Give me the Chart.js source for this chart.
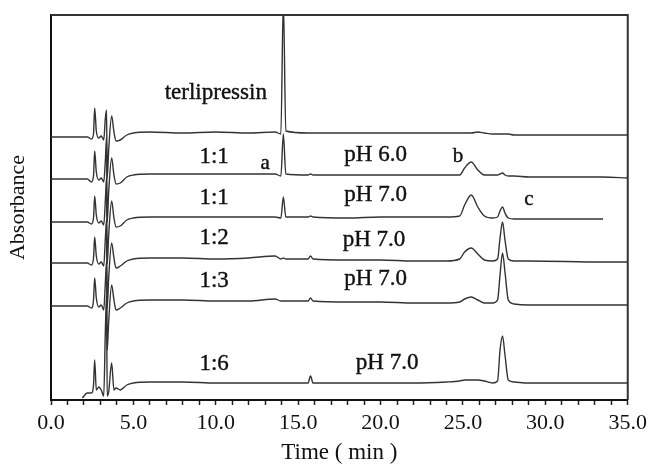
<!DOCTYPE html>
<html>
<head>
<meta charset="utf-8">
<script src="https://cdn.jsdelivr.net/npm/chart.js@4/dist/chart.umd.min.js"></script>
<style>
  html, body { margin: 0; padding: 0; background: #fff; }
  #chromatogram { display: block; }
</style>
</head>
<body>
<canvas id="chromatogram" width="652" height="464"></canvas>
<script>
// retention time grid (min), shared by every trace
const times = [0, 1.9, 2.2, 2.45, 2.58, 2.65, 2.75, 2.9, 3.05, 3.2, 3.3, 3.37, 3.41, 3.5, 3.68, 3.82, 3.95, 4.2, 4.6, 5.0,
  6.0, 8.0, 10.0, 12.0, 13.6, 13.95, 14.1, 14.25, 15.6, 15.75, 15.9, 18.0, 20.0, 22.0, 24.0,
  24.8, 25.1, 25.5, 25.9, 26.3, 26.8, 27.1, 27.25, 27.4, 27.55, 27.75, 28.1, 29.0, 33.5, 35.0];

// absorbance (arbitrary units, traces stacked with offsets as in the figure)
const terlipressin = [263, 263, 263, 261, 266, 292, 269, 262, 264, 260, 282, 290, 222, 250, 284, 268, 259, 260, 265, 267,
  268, 267, 268, 267, 268, 266, 400, 269, 267, 267, 267, 267, 267, 267, 267,
  267, 267, 267, 268, 267, 266, 266, 266, 266, 266, 266, 265, 265, 265, 265];
const ratio11pH60 = [221, 221, 221, 218, 224, 249, 228, 220, 222, 218, 240, 262, 178, 208, 242, 225, 216, 217, 223, 225,
  226, 226, 226, 226, 226, 224, 266, 226, 225, 226, 225, 225, 225, 225, 225,
  225, 232, 238, 230, 225, 225, 225, 226, 227, 225, 224, 224, 223, 223, 222];
const ratio11pH70 = [178, 178, 178, 176, 182, 204, 185, 177, 179, 175, 200, 222, 136, 165, 199, 182, 173, 174, 180, 182,
  183, 183, 183, 183, 183, 182, 203, 183, 183, 184, 183, 182, 183, 183, 183,
  184, 195, 205, 193, 184, 182, 183, 189, 193, 187, 182, 181, 181, 181, null];
const ratio12pH70 = [137, 137, 137, 135, 142, 163, 144, 136, 138, 134, 162, 180, 92, 122, 157, 142, 132, 134, 139, 141,
  142, 142, 141, 142, 144, 141, 142, 141, 141, 144, 141, 140, 140, 139, 139,
  141, 148, 152, 146, 140, 139, 141, 162, 178, 160, 141, 139, 139, 138, 138];
const ratio13pH70 = [94, 94, 94, 92, 100, 122, 102, 93, 95, 90, 118, 138, 50, 78, 115, 100, 90, 92, 97, 99,
  100, 100, 99, 99, 101, 99, 99, 99, 99, 102, 99, 98, 98, 97, 97,
  98, 101, 103, 100, 97, 97, 100, 125, 147, 128, 100, 96, 95, 95, 95];
const ratio16pH70 = [null, 2, 7, 7, 15, 40, 10, 13, 10, 4, 70, 104, 4, 8, 37, 10, 12, 10, 15, 17,
  18, 18, 17, 17, 17, 17, 17, 17, 17, 24, 17, 17, 17, 17, 18,
  19, 20, 20, 20, 19, 17, 19, 50, 64, 45, 20, 18, 17, 17, 17];

const traces = [terlipressin, ratio11pH60, ratio11pH70, ratio12pH70, ratio13pH70, ratio16pH70];
const traceNames = ["terlipressin", "1:1 pH 6.0", "1:1 pH 7.0", "1:2 pH 7.0", "1:3 pH 7.0", "1:6 pH 7.0"];

// text labels in the plot: [text, time, absorbance]
const labels = [
  ["terlipressin", 10.0, 307],
  ["1:1", 9.9, 243], ["a", 13.0, 237], ["pH 6.0", 19.7, 245], ["b", 24.7, 244],
  ["1:1", 9.9, 202], ["pH 7.0", 19.7, 205], ["c", 29.0, 201],
  ["1:2", 9.9, 162], ["pH 7.0", 19.6, 160],
  ["1:3", 9.9, 119], ["pH 7.0", 19.7, 121],
  ["1:6", 9.9, 36], ["pH 7.0", 20.4, 37]
];

const serif = "'Liberation Serif', 'DejaVu Serif', serif";

const textPlugin = {
  id: "peakText",
  afterDatasetsDraw(chart) {
    const { ctx, scales: { x, y }, chartArea: a } = chart;
    ctx.save();
    // frame on top and right
    ctx.strokeStyle = "#333";
    ctx.lineWidth = 2;
    ctx.beginPath();
    ctx.moveTo(a.left, a.top);
    ctx.lineTo(a.right, a.top);
    ctx.lineTo(a.right, a.bottom);
    ctx.stroke();
    ctx.fillStyle = "#111";
    ctx.strokeStyle = "#111";
    ctx.lineWidth = 0.4;
    ctx.textAlign = "center";
    ctx.textBaseline = "middle";
    labels.forEach(([txt, t, v]) => {
      ctx.font = (txt.length === 1 ? "21px " : "23px ") + serif;
      const px = x.getPixelForValue(t), py = y.getPixelForValue(v);
      ctx.fillText(txt, px, py);
      ctx.strokeText(txt, px, py);
    });
    ctx.restore();
  }
};

new Chart(document.getElementById("chromatogram"), {
  type: "line",
  data: {
    datasets: traces.map((vals, i) => ({
      label: traceNames[i],
      data: times.map((t, j) => ({ x: t, y: vals[j] })),
      borderColor: "#333",
      borderWidth: 1.4,
      pointRadius: 0,
      fill: false,
      spanGaps: false,
      cubicInterpolationMode: "monotone"
    }))
  },
  options: {
    responsive: false,
    animation: false,
    layout: { padding: { top: 15, right: 19, left: 0, bottom: 0 } },
    plugins: { legend: { display: false }, tooltip: { enabled: false } },
    scales: {
      x: {
        type: "linear",
        min: 0,
        max: 35,
        border: { color: "#111", width: 2 },
        grid: { drawOnChartArea: false, tickLength: 5, color: "#222", tickWidth: 1.5 },
        ticks: {
          stepSize: 1,
          autoSkip: false,
          maxRotation: 0,
          padding: 5,
          color: "#111",
          font: { family: serif, size: 22 },
          callback: (v) => (v % 5 === 0 ? v.toFixed(1) : "")
        },
        title: {
          display: true,
          text: "Time ( min )",
          color: "#111",
          font: { family: serif, size: 23, lineHeight: 1.0 },
          padding: { top: 0, bottom: 0 }
        },
        afterFit: (s) => { s.height = 64; }
      },
      y: {
        min: 0,
        max: 385,
        border: { color: "#111", width: 2 },
        grid: { display: false },
        ticks: { display: false },
        title: {
          display: true,
          text: "Absorbance",
          color: "#111",
          font: { family: serif, size: 22 },
          padding: { top: 5, bottom: 0 }
        },
        afterFit: (s) => { s.width = 51; }
      }
    }
  },
  plugins: [textPlugin]
});
</script>
</body>
</html>
